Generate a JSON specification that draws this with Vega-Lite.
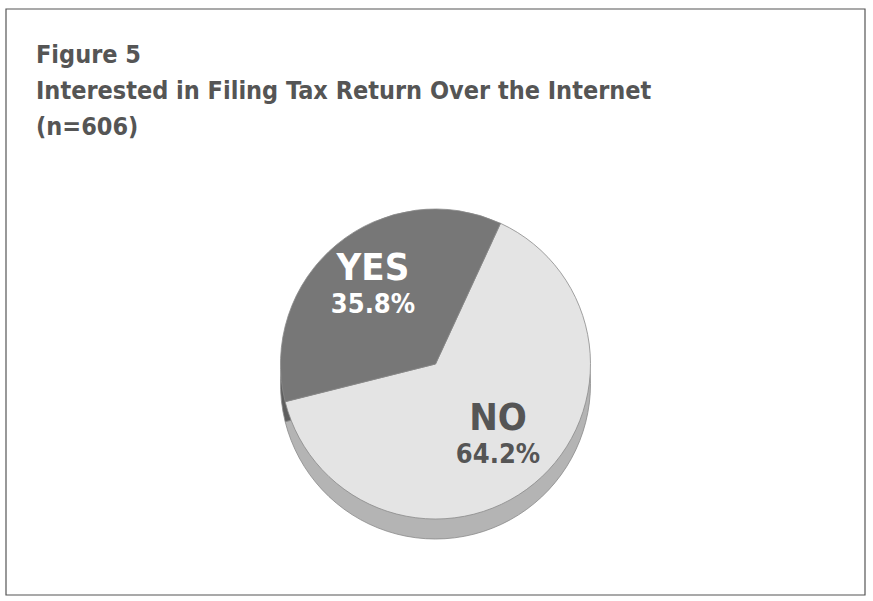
{
  "$schema": "https://vega.github.io/schema/vega-lite/v6.json",
  "width": 873,
  "height": 601,
  "autosize": {"type": "fit", "contains": "padding"},
  "padding": {"left": 5, "top": 8, "right": 7, "bottom": 5},
  "background": "white",
  "config": {
    "view": {"stroke": null},
    "font": "DejaVu Sans Condensed, sans-serif"
  },
  "title": {
    "text": ["Figure 5", "Interested in Filing Tax Return Over the Internet", "(n=606)"],
    "anchor": "start",
    "frame": "group",
    "orient": "top",
    "baseline": "top",
    "offset": -132,
    "dx": 30,
    "fontSize": 25,
    "lineHeight": 36,
    "fontWeight": "bold",
    "color": "#555555",
    "font": "DejaVu Sans Condensed, sans-serif"
  },
  "data": {
    "values": [
      {"answer": "NO", "pct": 64.2, "label": "64.2%", "rank": 1},
      {"answer": "YES", "pct": 35.8, "label": "35.8%", "rank": 2}
    ]
  },
  "encoding": {
    "theta": {"field": "pct", "type": "quantitative", "stack": true, "scale": {"range": [0.433, 6.716]}},
    "order": {"field": "rank", "type": "ordinal"}
  },
  "layer": [
    {
      "data": {"values": [{"frame": 1}]},
      "mark": {"type": "rect", "fill": null, "stroke": "#555555", "strokeWidth": 1.2},
      "encoding": {"theta": null, "order": null}
    },
    {
      "mark": {"type": "arc", "outerRadius": 155, "yOffset": 82, "stroke": "#8a8a8a", "strokeWidth": 0.8},
      "encoding": {
        "color": {"condition": {"test": "datum.answer === 'YES'", "value": "#5e5e5e"}, "value": "#b4b4b4"}
      }
    },
    {
      "mark": {"type": "arc", "outerRadius": 155, "yOffset": 62, "stroke": "#8a8a8a", "strokeWidth": 0.8},
      "encoding": {
        "color": {"field": "answer", "type": "nominal", "scale": {"domain": ["NO", "YES"], "range": ["#e4e4e4", "#777777"]}, "legend": null}
      }
    },
    {
      "mark": {"type": "text", "radius": 98, "yOffset": 62, "dy": -20, "fontSize": 38, "fontWeight": "bold"},
      "encoding": {
        "text": {"field": "answer"},
        "color": {"condition": {"test": "datum.answer === 'YES'", "value": "white"}, "value": "#555555"}
      }
    },
    {
      "mark": {"type": "text", "radius": 98, "yOffset": 62, "dy": 16, "fontSize": 27, "fontWeight": "bold"},
      "encoding": {
        "text": {"field": "label"},
        "color": {"condition": {"test": "datum.answer === 'YES'", "value": "white"}, "value": "#555555"}
      }
    }
  ]
}
